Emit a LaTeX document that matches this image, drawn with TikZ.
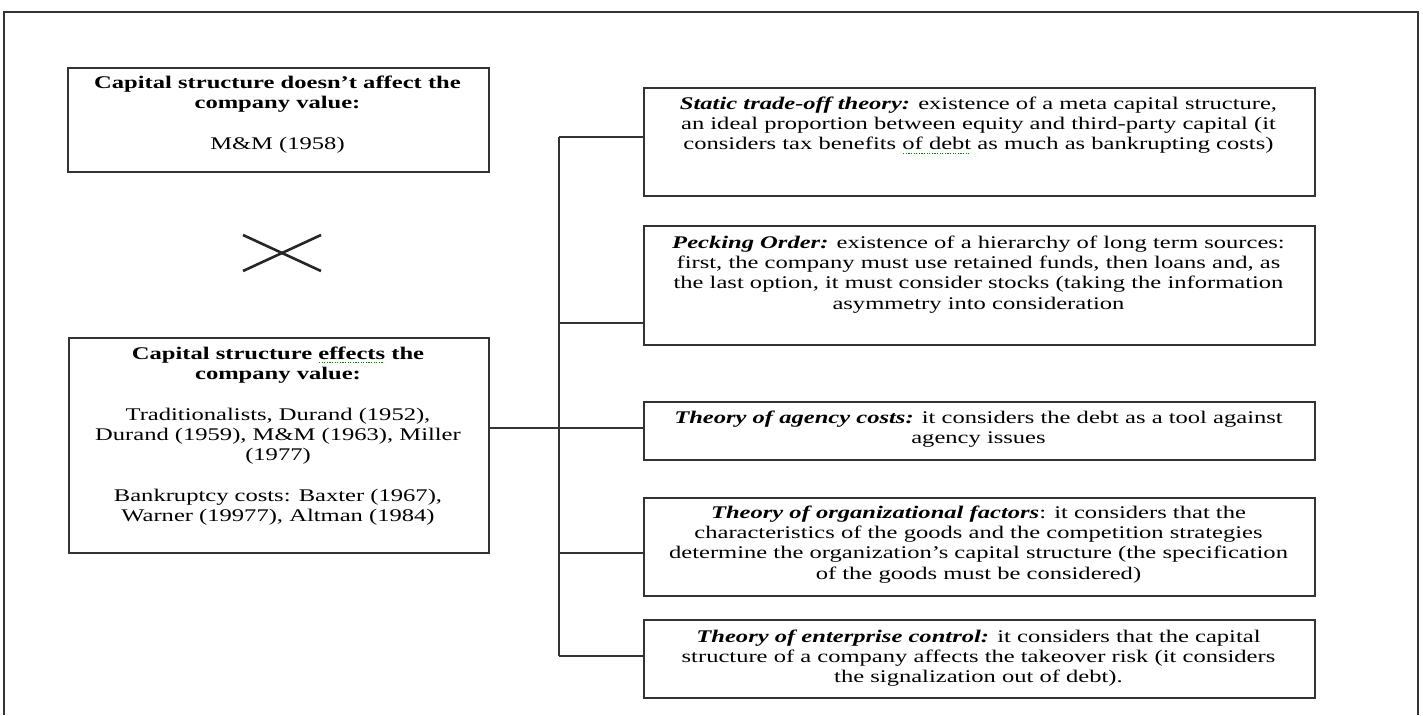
\documentclass[tikz,border=0pt]{standalone}
\usepackage{fontspec}
\setmainfont{Liberation Serif}[FakeStretch=1.38]
\usepackage{xcolor}
\newcommand\spellwave[1]{\setbox0=\hbox{#1}\rlap{\raisebox{-4pt}[0pt][0pt]{\hbox to \wd0{\color{green!55!black}\leaders\hbox to 2.6pt{\hss\vrule width 1.2pt height 1.2pt depth 0pt\hss}\hfill}}}\box0\relax}
\newcommand\thname[1]{\textbf{\textit{#1}}}
\newcommand\firststrut{\rule{0pt}{14pt}}
\begin{document}
\begin{tikzpicture}[x=1pt,y=-1pt,
  boxnode/.style={draw=black!80, line width=1.7pt, inner sep=0pt, anchor=north west},
  txt/.style={align=center, inner sep=0pt, anchor=north, text=black, font=\fontsize{17.8}{20.3}\selectfont},
  wire/.style={draw=black!80, line width=1.7pt},
  crossline/.style={draw=black!85, line width=2.6pt}]
\useasboundingbox (0,0) rectangle (1423,715);
% outer frame
\draw[wire] (4,715) -- (4,12) -- (1418,12) -- (1418,715);
% left boxes
\node[boxnode, minimum width=421pt, minimum height=104pt] (a) at (67,67) {};
\node[boxnode, minimum width=420pt, minimum height=215pt] (b) at (68,337) {};
\node[txt] (ta) at (277.5,74) {\firststrut\textbf{Capital structure doesn't affect the}\\\textbf{company value:}\\[20.3pt]M\&M (1958)};
\node[txt] (tb) at (278,345) {\firststrut\textbf{Capital structure \spellwave{effects} the}\\\textbf{company value:}\\[20.3pt]Traditionalists, Durand (1952),\\Durand (1959), M\&M (1963), Miller\\(1977)\\[20.3pt]Bankruptcy costs: Baxter (1967),\\Warner (19977), Altman (1984)};
% cross
\draw[crossline] (243,235) -- (321,271);
\draw[crossline] (243,271) -- (321,235);
% right boxes
\node[boxnode, minimum width=671pt, minimum height=108pt] (s1) at (643,87) {};
\node[boxnode, minimum width=671pt, minimum height=119pt] (s2) at (643,225) {};
\node[boxnode, minimum width=671pt, minimum height=58pt] (s3) at (643,401) {};
\node[boxnode, minimum width=671pt, minimum height=98pt] (s4) at (643,497) {};
\node[boxnode, minimum width=671pt, minimum height=78pt] (s5) at (643,619) {};
\node[txt] (t1) at (978.5,95) {\firststrut\thname{Static trade-off theory:} existence of a meta capital structure,\\an ideal proportion between equity and third-party capital (it\\considers tax benefits \spellwave{of debt} as much as bankrupting costs)};
\node[txt] (t2) at (978.5,234) {\firststrut\thname{Pecking Order:} existence of a hierarchy of long term sources:\\first, the company must use retained funds, then loans and, as\\the last option, it must consider stocks (taking the information\\asymmetry into consideration};
\node[txt] (t3) at (978.5,409) {\firststrut\thname{Theory of agency costs:} it considers the debt as a tool against\\agency issues};
\node[txt] (t4) at (978.5,504) {\firststrut\thname{Theory of organizational factors}: it considers that the\\characteristics of the goods and the competition strategies\\determine the organization's capital structure (the specification\\of the goods must be considered)};
\node[txt] (t5) at (978.5,628) {\firststrut\thname{Theory of enterprise control:} it considers that the capital\\structure of a company affects the takeover risk (it considers\\the signalization out of debt).};
% connectors
\coordinate (k1) at (559,137);
\coordinate (k2) at (559,323);
\coordinate (k3) at (559,428);
\coordinate (k4) at (559,553);
\coordinate (k5) at (559,656);
\draw[wire] (k1) -- (k5);
\draw[wire] (k1) -- (k1 -| s1.west);
\draw[wire] (k2) -- (k2 -| s2.west);
\draw[wire] (b.east |- k3) -- (k3 -| s3.west);
\draw[wire] (k4) -- (k4 -| s4.west);
\draw[wire] (k5) -- (k5 -| s5.west);
\end{tikzpicture}
\end{document}
